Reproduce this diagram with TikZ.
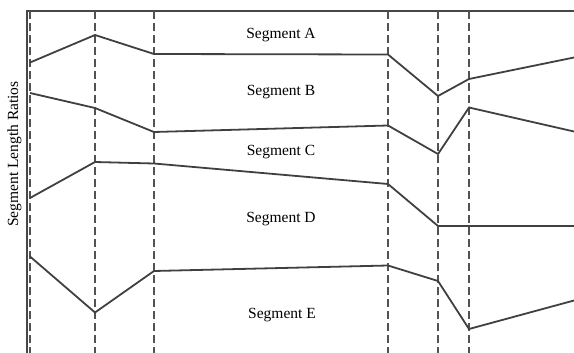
\documentclass[tikz,border=0pt]{standalone}
\usepackage{fontspec}
\setmainfont{Liberation Serif}
\begin{document}
\begin{tikzpicture}[x=1pt,y=-1pt,
  frame/.style={draw=black!72,line width=2pt},
  guide/.style={draw=black!68,line width=2pt,dash pattern=on 8pt off 4pt},
  curve/.style={draw=black!75,line width=1.8pt,line join=miter},
  lab/.style={font=\fontsize{15.5}{18}\selectfont,inner sep=0pt}]
\useasboundingbox (0,0) rectangle (574,353);
% frame
\coordinate (tl) at (27,11);
\coordinate (tr) at (574,11);
\coordinate (bl) at (27,353);
\draw[frame] (bl) -- (tl) -- (tr);
% dashed guides
\foreach \n/\x in {g1/30,g2/95,g3/154,g4/388,g5/438,g6/469}{
  \coordinate (\n t) at (\x,11);
  \coordinate (\n b) at (\x,353);
  \draw[guide] (\n t) -- (\n b);
}
% boundary lines
\coordinate (a1) at (30,62.5); \coordinate (a2) at (95,35); \coordinate (a3) at (154,54);
\coordinate (a4) at (388,54.5); \coordinate (a5) at (438,96); \coordinate (a6) at (469,79); \coordinate (a7) at (574,57.5);
\draw[curve] (a1) -- (a2) -- (a3) -- (a4) -- (a5) -- (a6) -- (a7);
\coordinate (b1) at (30,93); \coordinate (b2) at (95,108); \coordinate (b3) at (154,132);
\coordinate (b4) at (388,125.5); \coordinate (b5) at (438,154); \coordinate (b6) at (469,107.5); \coordinate (b7) at (574,131.5);
\draw[curve] (b1) -- (b2) -- (b3) -- (b4) -- (b5) -- (b6) -- (b7);
\coordinate (c1) at (30,198); \coordinate (c2) at (95,162); \coordinate (c3) at (154,163.5);
\coordinate (c4) at (388,184); \coordinate (c5) at (438,226); \coordinate (c6) at (469,226); \coordinate (c7) at (574,226);
\draw[curve] (c1) -- (c2) -- (c3) -- (c4) -- (c5) -- (c6) -- (c7);
\coordinate (d1) at (30,256.5); \coordinate (d2) at (95,312.5); \coordinate (d3) at (154,271);
\coordinate (d4) at (388,265.5); \coordinate (d5) at (438,281); \coordinate (d6) at (469,329); \coordinate (d7) at (574,300.5);
\draw[curve] (d1) -- (d2) -- (d3) -- (d4) -- (d5) -- (d6) -- (d7);
% labels
\node[lab] (la) at (281,35) {Segment A};
\node[lab] (lb) at (281,92) {Segment B};
\node[lab] (lc) at (281,152) {Segment C};
\node[lab] (ld) at (281,219) {Segment D};
\node[lab] (le) at (282,315) {Segment E};
\node[lab,rotate=90] (ly) at (14.5,154) {Segment Length Ratios};
\end{tikzpicture}
\end{document}
